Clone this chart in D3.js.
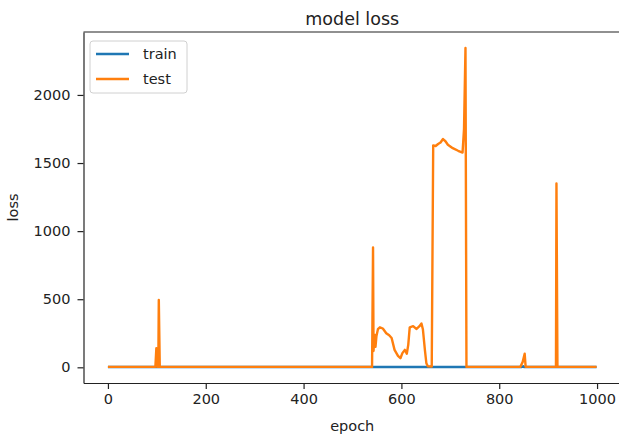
<!DOCTYPE html>
<html>
<head>
<meta charset="utf-8">
<script src="https://cdn.jsdelivr.net/npm/d3@7"></script>
<style>
  body { margin: 0; background: #fff; }
  svg text { font-family: "DejaVu Sans", sans-serif; fill: #222; }
  .axis path, .axis line { stroke: #222; stroke-width: 1.2; }
  .axis text { font-size: 14.5px; }
</style>
</head>
<body>
<div id="chart"></div>
<script>
// test loss (epoch / loss pairs)
var testEpochs = [0, 97, 99, 101, 103, 104, 106, 540, 542, 543, 545, 547, 549, 552, 556, 562, 569, 575, 580, 586,
  593, 598, 602, 607, 611, 614, 617, 624, 628, 631, 637, 641, 644, 648, 651, 654, 662, 665, 670, 675,
  680, 685, 690, 695, 705, 716, 725, 728, 731, 733, 843, 848, 852, 854, 916, 917, 919, 999];
var testLoss = [3, 3, 140, 3, 3, 495, 3, 3, 880, 120, 240, 150, 230, 280, 294, 285, 250, 235, 215, 128,
  84, 67, 104, 128, 100, 165, 294, 302, 290, 282, 302, 322, 277, 128, 30, 8, 5, 1630, 1625, 1640,
  1651, 1676, 1660, 1634, 1609, 1590, 1577, 1750, 2345, 3, 3, 40, 100, 3, 3, 1350, 3, 3];

// train loss stays near zero
var trainEpochs = [0, 846, 849, 851, 999];
var trainLoss = [2, 2, 8, 2, 2];

var xTicks = [0, 200, 400, 600, 800, 1000];
var yTicks = [0, 500, 1000, 1500, 2000];

var W = 619, H = 438;
var mLeft = 83.5, mRight = 621, mTop = 32, mBottom = 383;

var svg = d3.select("#chart").append("svg")
    .attr("width", W)
    .attr("height", H);

var testData = testEpochs.map(function(e, i) { return {x: e, y: testLoss[i]}; });
var trainData = trainEpochs.map(function(e, i) { return {x: e, y: trainLoss[i]}; });
var all = testData.concat(trainData);

// matplotlib style 5% margins
var xExt = d3.extent(all, function(d) { return d.x; });
var yExt = d3.extent(all, function(d) { return d.y; });
var xPad = (xExt[1] - xExt[0]) * 0.05, yPad = (yExt[1] - yExt[0]) * 0.05;

var x = d3.scaleLinear().domain([xExt[0] - xPad, xExt[1] + xPad]).range([mLeft, mRight]);
var y = d3.scaleLinear().domain([yExt[0] - yPad, yExt[1] + yPad]).range([mBottom, mTop]);

var line = d3.line()
    .x(function(d) { return x(d.x); })
    .y(function(d) { return y(d.y); });

svg.append("path")
    .datum(trainData)
    .attr("fill", "none")
    .attr("stroke", "#1f77b4")
    .attr("stroke-width", 2.4)
    .attr("stroke-linejoin", "round")
    .attr("d", line);

svg.append("path")
    .datum(testData)
    .attr("fill", "none")
    .attr("stroke", "#ff7f0e")
    .attr("stroke-width", 2.4)
    .attr("stroke-linejoin", "round")
    .attr("d", line);

// axes
svg.append("g")
    .attr("class", "axis")
    .attr("transform", "translate(0," + mBottom + ")")
    .call(d3.axisBottom(x).tickValues(xTicks).tickFormat(d3.format("d"))
      .tickSize(6).tickPadding(5).tickSizeOuter(0))
    .call(function(g) { g.selectAll("text").attr("fill", "#222"); });

svg.append("g")
    .attr("class", "axis")
    .attr("transform", "translate(" + mLeft + ",0)")
    .call(d3.axisLeft(y).tickValues(yTicks).tickFormat(d3.format("d"))
      .tickSize(6).tickPadding(7).tickSizeOuter(0))
    .call(function(g) { g.selectAll("text").attr("fill", "#222"); });

// top and right spines
svg.append("line")
    .attr("x1", mLeft).attr("x2", mRight)
    .attr("y1", mTop).attr("y2", mTop)
    .attr("stroke", "#222").attr("stroke-width", 1.2);
svg.append("line")
    .attr("x1", mRight).attr("x2", mRight)
    .attr("y1", mTop).attr("y2", mBottom)
    .attr("stroke", "#222").attr("stroke-width", 1.2);

// title and axis labels
svg.append("text")
    .attr("x", (mLeft + mRight) / 2)
    .attr("y", 25)
    .attr("text-anchor", "middle")
    .attr("font-size", 17.5)
    .text("model loss");

svg.append("text")
    .attr("x", (mLeft + mRight) / 2)
    .attr("y", 431)
    .attr("text-anchor", "middle")
    .attr("font-size", 14.5)
    .text("epoch");

svg.append("text")
    .attr("transform", "translate(18," + ((mTop + mBottom) / 2) + ")rotate(-90)")
    .attr("text-anchor", "middle")
    .attr("font-size", 14.5)
    .text("loss");

// legend
var legend = svg.append("g").attr("transform", "translate(90,41)");
legend.append("rect")
    .attr("width", 97).attr("height", 52)
    .attr("rx", 3)
    .attr("fill", "#fff").attr("fill-opacity", 0.8)
    .attr("stroke", "#d0d0d0");

var items = [{name: "train", color: "#1f77b4"}, {name: "test", color: "#ff7f0e"}];
items.forEach(function(it, i) {
  var yy = 13 + i * 25;
  legend.append("line")
      .attr("x1", 6).attr("x2", 39)
      .attr("y1", yy).attr("y2", yy)
      .attr("stroke", it.color).attr("stroke-width", 2.4);
  legend.append("text")
      .attr("x", 53).attr("y", yy + 5)
      .attr("font-size", 14.5)
      .text(it.name);
});
</script>
</body>
</html>
